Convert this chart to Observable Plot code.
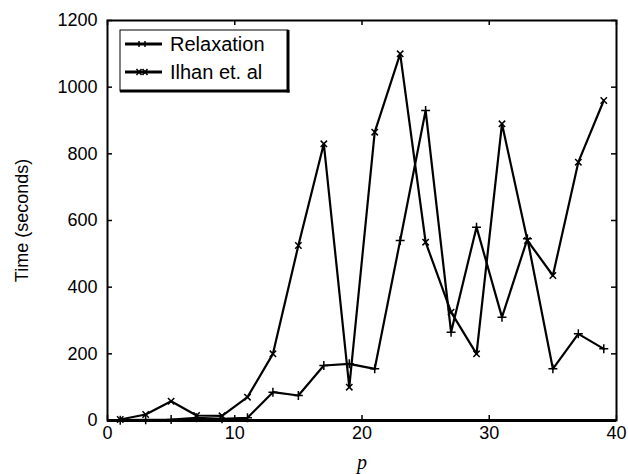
<!DOCTYPE html>
<html>
<head>
<meta charset="utf-8">
<script src="https://cdn.jsdelivr.net/npm/d3@7"></script>
<script src="https://cdn.jsdelivr.net/npm/@observablehq/plot@0.6"></script>
<style>
  html, body { margin: 0; padding: 0; background: #fff; }
  #chart { position: relative; width: 628px; height: 474px; }
</style>
</head>
<body>
<div id="chart"></div>
<script>
// ---- data ----
const p = [1, 3, 5, 7, 9, 11, 13, 15, 17, 19, 21, 23, 25, 27, 29, 31, 33, 35, 37, 39];
const ilhan = [3, 18, 58, 15, 14, 70, 200, 525, 830, 100, 865, 1100, 535, 325, 200, 890, 540, 435, 775, 960];
const relaxation = [1, 2, 3, 8, 5, 8, 85, 75, 165, 170, 155, 540, 930, 265, 580, 310, 545, 155, 260, 215];
const seriesNames = ["Relaxation", "Ilhan et. al"];
const xTicks = [0, 10, 20, 30, 40];
const yTicks = [0, 200, 400, 600, 800, 1000, 1200];

const rows = [];
p.forEach((v, i) => {
  rows.push({p: v, t: relaxation[i], s: seriesNames[0]});
  rows.push({p: v, t: ilhan[i], s: seriesNames[1]});
});
const relRows = rows.filter(d => d.s === seriesNames[0]);
const ilhRows = rows.filter(d => d.s === seriesNames[1]);

const W = 628, H = 474;
const mL = 107, mR = 12, mT = 20, mB = 54;
const innerH = H - mT - mB, innerW = W - mL - mR;
const tickLen = 5;
const font = "'Liberation Sans', Arial, Helvetica, sans-serif";
const fmt = d => String(d);

const chart = Plot.plot({
  width: W,
  height: H,
  marginLeft: mL,
  marginRight: mR,
  marginTop: mT,
  marginBottom: mB,
  style: {fontFamily: font, fontSize: "18px", color: "black", background: "white"},
  x: {domain: [0, 40], ticks: xTicks},
  y: {domain: [0, 1200], ticks: yTicks},
  marks: [
    Plot.axisX(xTicks, {tickSize: 0, tickPadding: 6, label: null, tickFormat: fmt, fontSize: 18}),
    Plot.axisY(yTicks, {tickSize: 0, tickPadding: 10, label: null, tickFormat: fmt, fontSize: 18}),
    Plot.axisX([], {label: "p", labelAnchor: "center", labelOffset: 48, labelArrow: "none", fontSize: 20}),
    Plot.axisY([], {label: "Time (seconds)", labelAnchor: "center", labelOffset: 92, labelArrow: "none", fontSize: 18}),
    // inward ticks on all four sides
    Plot.ruleX(xTicks, {x: d => d, insetTop: innerH - tickLen, stroke: "black", strokeWidth: 1.5}),
    Plot.ruleX(xTicks, {x: d => d, insetBottom: innerH - tickLen, stroke: "black", strokeWidth: 1.5}),
    Plot.ruleY(yTicks, {y: d => d, insetRight: innerW - tickLen, stroke: "black", strokeWidth: 1.5}),
    Plot.ruleY(yTicks, {y: d => d, insetLeft: innerW - tickLen, stroke: "black", strokeWidth: 1.5}),
    Plot.line(relRows, {x: "p", y: "t", stroke: "black", strokeWidth: 2.2}),
    Plot.line(ilhRows, {x: "p", y: "t", stroke: "black", strokeWidth: 2.2}),
    Plot.dot(relRows, {x: "p", y: "t", symbol: "plus", r: 3, stroke: "black", strokeWidth: 1.5}),
    Plot.dot(ilhRows, {x: "p", y: "t", symbol: "times", r: 3, stroke: "black", strokeWidth: 1.5}),
    Plot.frame({stroke: "black", strokeWidth: 2}),
    Plot.ruleY([0], {stroke: "black", strokeWidth: 3})
  ]
});

document.getElementById("chart").appendChild(chart);

// style the x label as italic serif
const svg = d3.select(chart);
svg.selectAll("g[aria-label='x-axis label'] text")
  .attr("font-family", "'Liberation Serif', 'DejaVu Serif', serif")
  .attr("font-style", "italic");

// legend (inside the plot, top-left, MATLAB style box)
const lg = svg.append("g").attr("aria-label", "legend").attr("text-anchor", "start");
const bx = mL + 13, by = mT + 10, bw = 168, bh = 61;
lg.append("rect").attr("x", bx).attr("y", by).attr("width", bw).attr("height", bh)
  .attr("fill", "white").attr("stroke", "black").attr("stroke-width", 1);
lg.append("line").attr("x1", bx + bw).attr("x2", bx + bw).attr("y1", by).attr("y2", by + bh + 1.5)
  .attr("stroke", "black").attr("stroke-width", 3);
lg.append("line").attr("x1", bx).attr("x2", bx + bw + 1.5).attr("y1", by + bh).attr("y2", by + bh)
  .attr("stroke", "black").attr("stroke-width", 3);
seriesNames.forEach((name, i) => {
  const ly = by + 14 + i * 28;
  lg.append("line").attr("x1", bx + 5).attr("x2", bx + 42).attr("y1", ly).attr("y2", ly)
    .attr("stroke", "black").attr("stroke-width", 3);
  [bx + 19, bx + 25].forEach(cx => {
    lg.append("path").attr("d", i === 0
        ? `M${cx},${ly - 3}L${cx},${ly + 3}`
        : `M${cx - 2.5},${ly - 3}L${cx + 2.5},${ly + 3}M${cx - 2.5},${ly + 3}L${cx + 2.5},${ly - 3}`)
      .attr("stroke", "black").attr("stroke-width", 1.5).attr("fill", "none");
  });
  lg.append("text").attr("x", bx + 50).attr("y", ly + 7)
    .attr("text-anchor", "start")
    .attr("font-family", font).attr("font-size", 20).attr("fill", "black")
    .text(name);
});
</script>
</body>
</html>
